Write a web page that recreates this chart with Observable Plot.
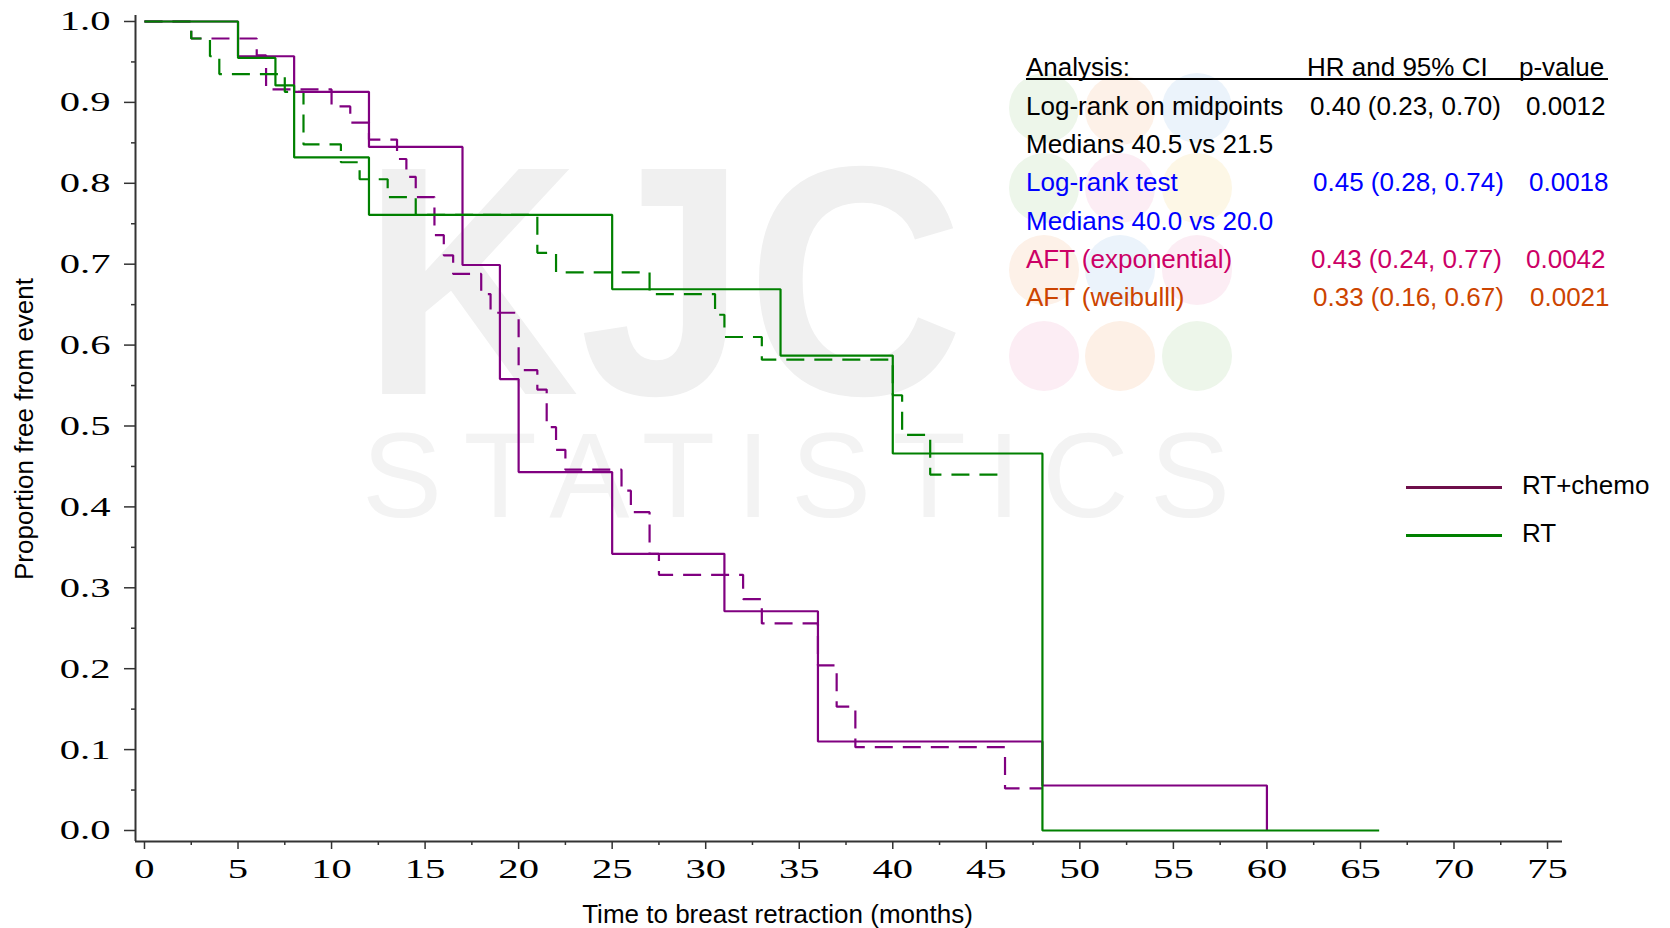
<!DOCTYPE html>
<html>
<head>
<meta charset="utf-8">
<script src="https://cdn.jsdelivr.net/npm/d3@7"></script>
<script src="https://cdn.jsdelivr.net/npm/@observablehq/plot@0.6"></script>
<style>
  body { margin: 0; background: #fff; }
  #wrap { position: relative; width: 1670px; height: 928px; overflow: hidden; background: #fff; }
  #wm, #chart { position: absolute; left: 0; top: 0; }
  .sans { font-family: "Liberation Sans", Arial, sans-serif; font-size: 26px; position: absolute; white-space: nowrap; line-height: 1; }
  .cell { transform: translateY(-50%); }
  .legline { position: absolute; height: 3px; }
</style>
</head>
<body>
<div id="wrap">
  <svg id="wm" width="1670" height="928"></svg>
  <div id="chart"></div>
</div>
<script>
// ---------------- data ----------------
// RT+chemo, right-endpoint Kaplan-Meier (solid)
const rtcSolidTime = [0, 5, 8, 12, 17, 19, 20, 25, 31, 36, 48, 60];
const rtcSolidSurv = [1, 0.957, 0.913, 0.845, 0.699, 0.558, 0.443, 0.342, 0.271, 0.110, 0.0556, 0];
// RT+chemo, midpoint Kaplan-Meier (dashed)
const rtcDashTime = [0, 2.5, 6, 6.5, 10, 11, 12, 13.5, 14, 14.5, 15.5, 16, 16.5, 18, 18.5, 20, 21, 21.5, 22, 22.5, 25.5, 26, 27, 27.5, 32, 33, 36, 37, 38, 46, 48];
const rtcDashSurv = [1, 0.979, 0.958, 0.916, 0.895, 0.875, 0.854, 0.830, 0.808, 0.783, 0.736, 0.711, 0.688, 0.663, 0.640, 0.569, 0.545, 0.4985, 0.4705, 0.446, 0.420, 0.3935, 0.342, 0.316, 0.286, 0.256, 0.204, 0.153, 0.103, 0.052, 0.052];
// RT, right-endpoint Kaplan-Meier (solid)
const rtSolidTime = [0, 5, 7, 8, 12, 25, 34, 40, 48, 66];
const rtSolidSurv = [1, 0.955, 0.921, 0.832, 0.761, 0.669, 0.587, 0.466, 0, 0];
// RT, midpoint Kaplan-Meier (dashed)
const rtDashTime = [0, 2.5, 3.5, 4, 7.5, 8.5, 10.5, 11.5, 13, 14.5, 21, 22, 27, 30.5, 31, 33, 40, 40.5, 42, 46];
const rtDashSurv = [1, 0.979, 0.957, 0.935, 0.913, 0.848, 0.826, 0.805, 0.783, 0.761, 0.714, 0.690, 0.663, 0.6375, 0.610, 0.582, 0.538, 0.489, 0.440, 0.440];

const xTicks = [0, 5, 10, 15, 20, 25, 30, 35, 40, 45, 50, 55, 60, 65, 70, 75];
const xMinorTicks = [2.5, 7.5, 12.5, 17.5, 22.5, 27.5, 32.5, 37.5, 42.5, 47.5, 52.5, 57.5, 62.5, 67.5, 72.5];
const yTicks = [0, 0.1, 0.2, 0.3, 0.4, 0.5, 0.6, 0.7, 0.8, 0.9, 1.0];
const yMinorTicks = [0.05, 0.15, 0.25, 0.35, 0.45, 0.55, 0.65, 0.75, 0.85, 0.95];

const seriesNames = ["RT+chemo", "RT"];
const seriesColors = ["#800080", "#008000"];
const legendColors = ["#6e0f4a", "#008000"];

const xTitle = "Time to breast retraction (months)";
const yTitle = "Proportion free from event";

const tableHeader = ["Analysis:", "HR and 95% CI", "p-value"];
const tableRows = [
  ["Log-rank on midpoints", "0.40 (0.23, 0.70)", "0.0012", "#000000"],
  ["Medians 40.5 vs 21.5", "", "", "#000000"],
  ["Log-rank test", "0.45 (0.28, 0.74)", "0.0018", "#0000ff"],
  ["Medians 40.0 vs 20.0", "", "", "#0000ff"],
  ["AFT (exponential)", "0.43 (0.24, 0.77)", "0.0042", "#cc0066"],
  ["AFT (weibulll)", "0.33 (0.16, 0.67)", "0.0021", "#cc4400"]
];

const X_DOMAIN = [-0.48, 75.8];
const Y_DOMAIN = [-0.0136, 1.0074];

// --------------- helpers ---------------
const toRows = (ts, ss) => ts.map((t, i) => ({t, s: ss[i]}));
const serif = '"Liberation Serif", "Times New Roman", serif';
const sansF = '"Liberation Sans", Arial, sans-serif';

// --------------- watermark ---------------
(function watermark() {
  const wm = d3.select("#wm");
  const circ = [
    [1044, 108, "#edf6ea"], [1120, 110, "#fdf1e8"], [1197, 108, "#ebf3fb"],
    [1044, 188, "#edf6ea"], [1120, 188, "#fcedf4"], [1197, 188, "#fdf7e6"],
    [1044, 270, "#fdf1e8"], [1120, 270, "#ebf3fb"], [1197, 270, "#fcedf4"],
    [1044, 356, "#fcedf4"], [1120, 356, "#fdf0e6"], [1197, 356, "#edf6ea"]
  ];
  wm.selectAll("circle").data(circ).join("circle")
    .attr("cx", d => d[0]).attr("cy", d => d[1]).attr("r", 35).attr("fill", d => d[2]);
  const t = wm.append("text").attr("font-family", sansF);
  t.append("tspan").text("KJC").attr("x", 362).attr("y", 394)
    .attr("font-weight", "bold").attr("font-size", 327)
    .attr("textLength", 602).attr("lengthAdjust", "spacingAndGlyphs").attr("fill", "#f0f0f0");
  t.append("tspan").text("STATISTICS").attr("x", 362).attr("y", 517)
    .attr("font-weight", "normal").attr("font-size", 120)
    .attr("textLength", 868).attr("lengthAdjust", "spacing").attr("fill", "#f3f3f3");
})();

// --------------- chart ---------------
const lineOpts = {x: "t", y: "s", curve: "step-after", strokeWidth: 2.2, strokeLinecap: "butt", strokeLinejoin: "miter"};
const chart = Plot.plot({
  width: 1670,
  height: 928,
  marginLeft: 135,
  marginRight: 108,
  marginTop: 15,
  marginBottom: 87,
  style: {background: "transparent", overflow: "visible"},
  x: {domain: X_DOMAIN},
  y: {domain: Y_DOMAIN},
  marks: [
    Plot.line(toRows(rtcDashTime, rtcDashSurv), {...lineOpts, stroke: seriesColors[0], strokeDasharray: "18,10"}),
    Plot.line(toRows(rtDashTime, rtDashSurv), {...lineOpts, stroke: seriesColors[1], strokeDasharray: "18,10"}),
    Plot.line(toRows(rtcSolidTime, rtcSolidSurv), {...lineOpts, stroke: seriesColors[0]}),
    Plot.line(toRows(rtSolidTime, rtSolidSurv), {...lineOpts, stroke: seriesColors[1]}),
    Plot.ruleX([X_DOMAIN[0]], {stroke: "#333", strokeWidth: 2}),
    Plot.ruleY([Y_DOMAIN[0]], {stroke: "#333", strokeWidth: 2}),
    Plot.axisX(xMinorTicks, {anchor: "bottom", tickSize: 4, tickFormat: () => "", label: null, stroke: "#333", strokeWidth: 1.5}),
    Plot.axisX(xTicks, {anchor: "bottom", tickSize: 8, tickPadding: 9, tickFormat: d => String(d), label: null,
      stroke: "#333", strokeWidth: 1.5, fill: "#000", fontSize: 28, fontFamily: serif}),
    Plot.axisY(yMinorTicks, {anchor: "left", tickSize: 4, tickFormat: () => "", label: null, stroke: "#333", strokeWidth: 1.5}),
    Plot.axisY(yTicks, {anchor: "left", tickSize: 11, tickPadding: 14, tickFormat: d => d.toFixed(1), label: null,
      stroke: "#333", strokeWidth: 1.5, fill: "#000", fontSize: 28, fontFamily: serif})
  ]
});
document.getElementById("chart").appendChild(chart);

// stretch the serif tick labels horizontally like the original (scale about each label's anchor)
chart.querySelectorAll('g[aria-label$="tick label"] text').forEach(t => {
  const tr = t.getAttribute("transform");
  if (tr && /translate/.test(tr)) {
    t.setAttribute("transform", `${tr} scale(1.45,1)`);
  }
  t.style.fontFamily = serif;
  t.style.fontSize = "28px";
});

// --------------- overlays: titles, table, legend ---------------
const wrap = document.getElementById("wrap");
function addText(txt, left, top, color, extra) {
  const d = document.createElement("div");
  d.className = "sans cell";
  d.textContent = txt;
  d.style.left = left + "px";
  d.style.top = top + "px";
  d.style.color = color || "#000";
  if (extra) Object.assign(d.style, extra);
  wrap.appendChild(d);
  return d;
}
// axis titles
addText(xTitle, 777.5, 914, "#000", {transform: "translate(-50%,-50%)"});
addText(yTitle, 23.5, 429, "#000", {transform: "translate(-50%,-50%) rotate(-90deg)"});

// table
const rowY = [67, 105.5, 144, 182, 220.5, 259, 297];
const col2X = [1307, 1310, 1310, 1313, 1313, 1311, 1313];
const col3X = [1519, 1526, 1526, 1529, 1529, 1526, 1530];
addText(tableHeader[0], 1026, rowY[0]);
addText(tableHeader[1], col2X[0], rowY[0]);
addText(tableHeader[2], col3X[0], rowY[0]);
const ul = document.createElement("div");
Object.assign(ul.style, {position: "absolute", left: "1026px", top: "78px", width: "582px", height: "2px", background: "#000"});
wrap.appendChild(ul);
tableRows.forEach((r, i) => {
  addText(r[0], 1026, rowY[i + 1], r[3]);
  if (r[1]) addText(r[1], col2X[i + 1], rowY[i + 1], r[3]);
  if (r[2]) addText(r[2], col3X[i + 1], rowY[i + 1], r[3]);
});

// legend
const legY = [487, 535];
seriesNames.forEach((name, i) => {
  const l = document.createElement("div");
  l.className = "legline";
  Object.assign(l.style, {left: "1406px", width: "96px", top: (legY[i] - 1.5) + "px", background: legendColors[i]});
  wrap.appendChild(l);
  addText(name, 1522, legY[i] - 2, "#000");
});
</script>
</body>
</html>
